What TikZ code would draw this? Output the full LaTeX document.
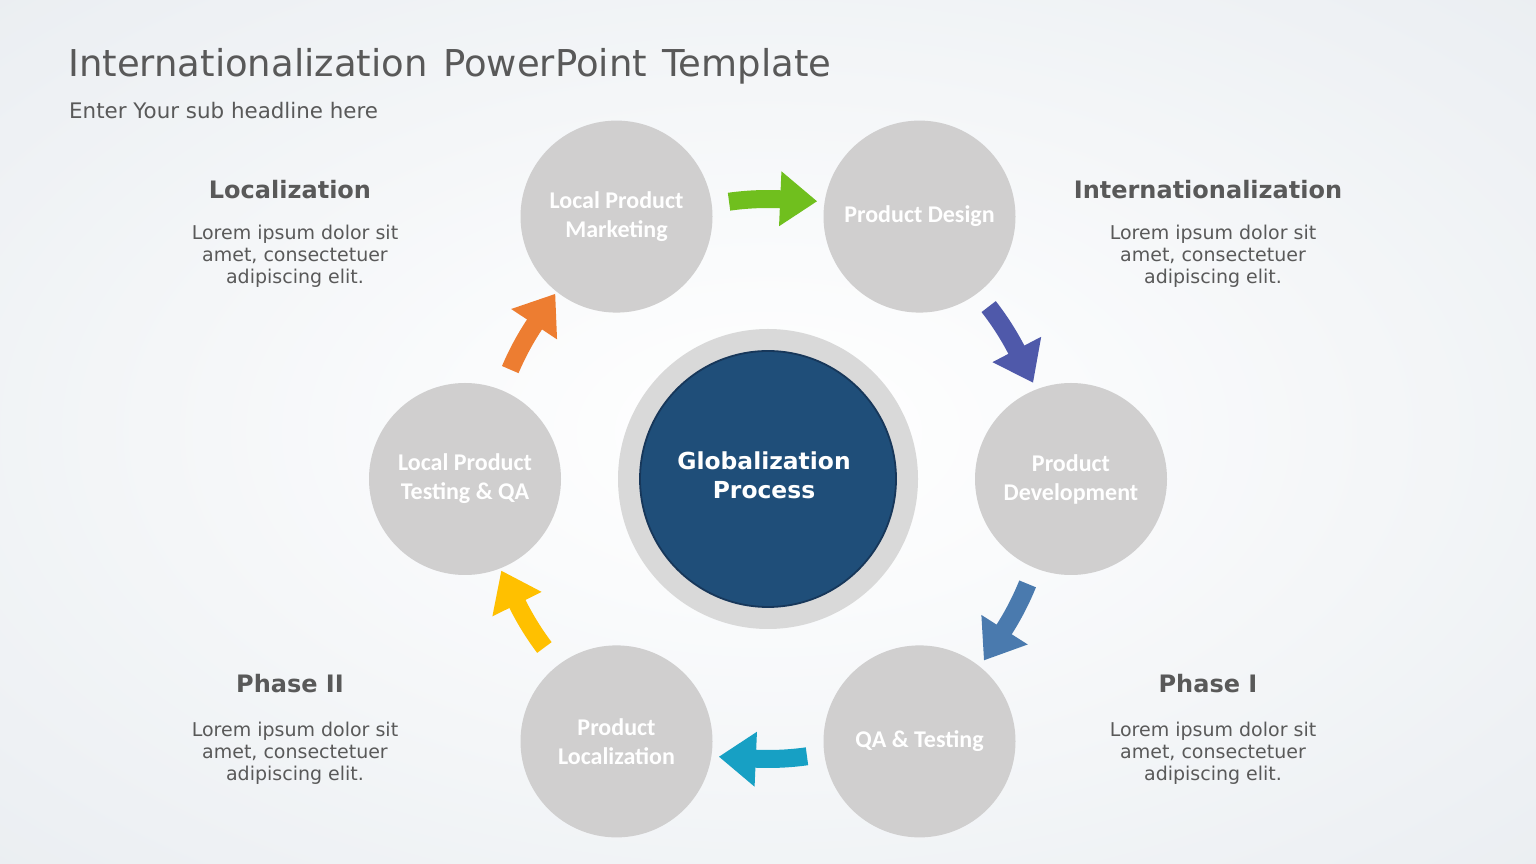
\documentclass[tikz,border=0pt]{standalone}
\usepackage{fontspec}
\setmainfont{DejaVu Sans}
\newfontfamily\calibrifont{Carlito}
\usetikzlibrary{arrows.meta,calc}
\definecolor{txtgray}{HTML}{595959}
\definecolor{circgray}{HTML}{D0CFCF}
\definecolor{ringgray}{HTML}{D9D9D9}
\definecolor{darkblue}{HTML}{1F4E79}
\definecolor{darkedge}{HTML}{17375A}
\definecolor{agreen}{HTML}{70BF1E}
\definecolor{apurple}{HTML}{4F59AA}
\definecolor{ablue}{HTML}{4A7AAE}
\definecolor{acyan}{HTML}{17A0C4}
\definecolor{ayellow}{HTML}{FFC000}
\definecolor{aorange}{HTML}{ED7D31}
\definecolor{bgedge}{HTML}{E3E7EC}
\definecolor{bgmid}{HTML}{EEF1F4}
\definecolor{bgin}{HTML}{FAFBFC}
\pgfdeclareradialshading{bgshade}{\pgfpoint{0bp}{0bp}}{color(0bp)=(white); color(10bp)=(bgin); color(30bp)=(bgmid); color(50bp)=(bgedge); color(72bp)=(bgedge)}
\tikzset{
  proc/.style={circle, fill=circgray, minimum size=192pt, inner sep=0pt, text=white,
    align=center, font=\calibrifont\bfseries\fontsize{24}{29}\selectfont},
  heading/.style={anchor=base, text=txtgray, inner sep=0pt, font=\bfseries\fontsize{24}{28}\selectfont},
  body/.style={anchor=north, text=txtgray, inner sep=0pt, align=center, font=\fontsize{19}{22}\selectfont},
  shaft/.style={line width=18pt, line cap=butt}
}
\newcommand\flowarrow[2]{%
  \draw[shaft, #1] ($(G)+(#2:280pt)$) arc[start angle=#2, end angle=#2-10.8, radius=280pt];
  \fill[#1] ($(G)+(#2-10.5:253pt)$) -- ($(G)+(#2-10.5:308pt)$) -- ($(G)+(#2-18:282pt)$) -- cycle;}
\begin{document}
\begin{tikzpicture}[x=1pt,y=1pt]
\useasboundingbox (0,0) rectangle (1536,864);
\shade[shading=bgshade] (0,0) rectangle (1536,864);
% title
\node[anchor=base west, inner sep=0pt, text=txtgray, font=\fontsize{37}{40}\selectfont] (title) at (68,787) {Internationalization\hspace{0.42em}PowerPoint\hspace{0.42em}Template};
\node[anchor=base west, inner sep=0pt, text=txtgray, font=\fontsize{21.4}{25}\selectfont] (sub) at (69,745) {Enter Your sub headline here};
% center
\node[circle, fill=ringgray, minimum size=300pt, inner sep=0pt] (ring) at (768,385) {};
\node[circle, fill=darkblue, draw=darkedge, line width=1.8pt, minimum size=256pt, inner sep=0pt] (G) at (768,385) {};
\node[text=white, align=center, inner sep=0pt, font=\bfseries\fontsize{23.4}{29}\selectfont] (gtext) at (764,389) {Globalization\\Process};
% process circles
\node[proc] (pdev) at (1071,385) {Product\\Development};
\node[proc] (pdes) at (919.5,647.4) {Product Design};
\node[proc] (lpm) at (616.5,647.4) {Local Product\\Marketing};
\node[proc] (lpt) at (465,385) {Local Product\\Testing \& QA};
\node[proc] (ploc) at (616.5,122.6) {Product\\Localization};
\node[proc] (qa) at (919.5,122.6) {QA \& Testing};
% arrows
\flowarrow{agreen}{98}
\flowarrow{apurple}{38}
\flowarrow{ablue}{-22}
\flowarrow{acyan}{-82}
\flowarrow{ayellow}{-143}
\flowarrow{aorange}{157}
% side texts
\node[heading] (h1) at (290,665.5) {Localization};
\node[body] (b1) at (295,639) {Lorem ipsum dolor sit\\amet, consectetuer\\adipiscing elit.};
\node[heading] (h2) at (1208,665.5) {Internationalization};
\node[body] (b2) at (1213,639) {Lorem ipsum dolor sit\\amet, consectetuer\\adipiscing elit.};
\node[heading] (h3) at (290,171.5) {Phase II};
\node[body] (b3) at (295,142) {Lorem ipsum dolor sit\\amet, consectetuer\\adipiscing elit.};
\node[heading] (h4) at (1208,171.5) {Phase I};
\node[body] (b4) at (1213,142) {Lorem ipsum dolor sit\\amet, consectetuer\\adipiscing elit.};
\end{tikzpicture}
\end{document}
